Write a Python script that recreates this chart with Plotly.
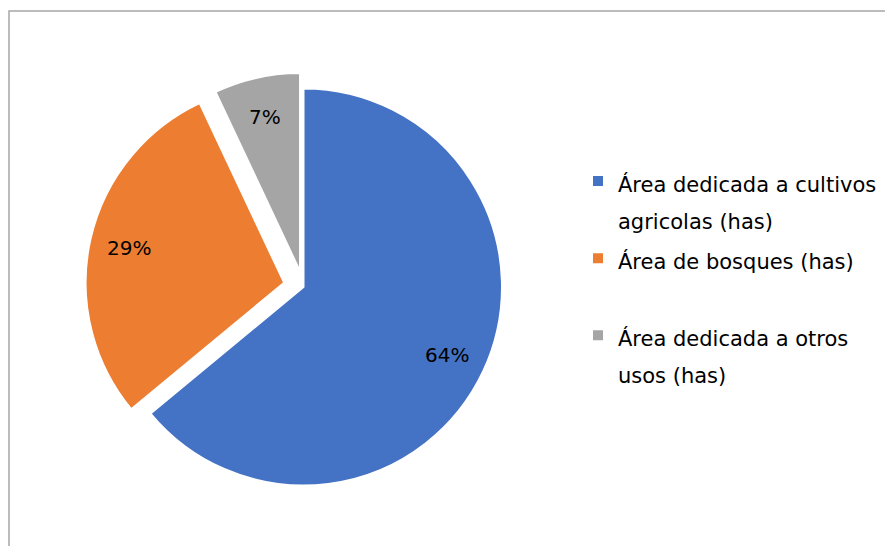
import math
import plotly.graph_objects as go

labels = ["Área dedicada a cultivos<br>agricolas (has)",
          "Área de bosques (has)<br> ",
          "Área dedicada a otros<br>usos (has)"]
values = [64, 29, 7]
colors = ["#4472C4", "#ED7D31", "#A5A5A5"]
pulls = [0, 0.1, 0.08]

# the page body has an 8px default margin: work in figure pixels
W, H = 885, 538
FONT = "DejaVu Sans"

CX, CY = 295.5, 279.0      # pie centre (figure px)
R = 198.5                  # pie radius (px)
SIDE = 2 * R * (1 + max(pulls))
LABEL_R = 0.8

legend_names = ['<span style="font-size:21px">' + l + '</span>' for l in labels]

fig = go.Figure(go.Pie(
    labels=legend_names,
    values=values,
    sort=False,
    direction="clockwise",
    rotation=0,
    pull=pulls,
    marker=dict(colors=colors, line=dict(color="white", width=2)),
    textinfo="none",
    hoverinfo="label+percent",
    domain=dict(x=[(CX - SIDE / 2) / W, (CX + SIDE / 2) / W],
                y=[1 - (CY + SIDE / 2) / H, 1 - (CY - SIDE / 2) / H]),
))

# percentage labels placed along each slice's bisector
total = sum(values)
cum = 0
for v, p in zip(values, pulls):
    mid = (cum + v / 2) / total * 2 * math.pi
    cum += v
    dx, dy = math.sin(mid), -math.cos(mid)
    px = CX + (p + LABEL_R) * R * dx
    py = CY + (p + LABEL_R) * R * dy
    fig.add_annotation(x=px / W, y=1 - py / H, xref="paper", yref="paper",
                       text=f"{round(v / total * 100)}%", showarrow=False,
                       font=dict(family=FONT, size=20, color="#000000"),
                       xanchor="center", yanchor="middle")

# chart frame (left and top edges visible)
fig.add_shape(type="path",
              path=f"M {1/W} 0 L {1/W} {1-3/H} L 1 {1-3/H}",
              xref="paper", yref="paper",
              line=dict(color="#A6A6A6", width=1.5))

fig.update_layout(
    width=W, height=H,
    margin=dict(l=0, r=0, t=0, b=0),
    paper_bgcolor="white",
    plot_bgcolor="white",
    font=dict(family=FONT, color="#000000"),
    legend=dict(
        x=570 / W, xanchor="left",
        y=1 - 148 / H, yanchor="top",
        valign="top",
        font=dict(family=FONT, size=28.5, color="#000000"),
        bgcolor="rgba(0,0,0,0)",
        traceorder="normal",
    ),
    showlegend=True,
)

fig.write_html("out.html")
